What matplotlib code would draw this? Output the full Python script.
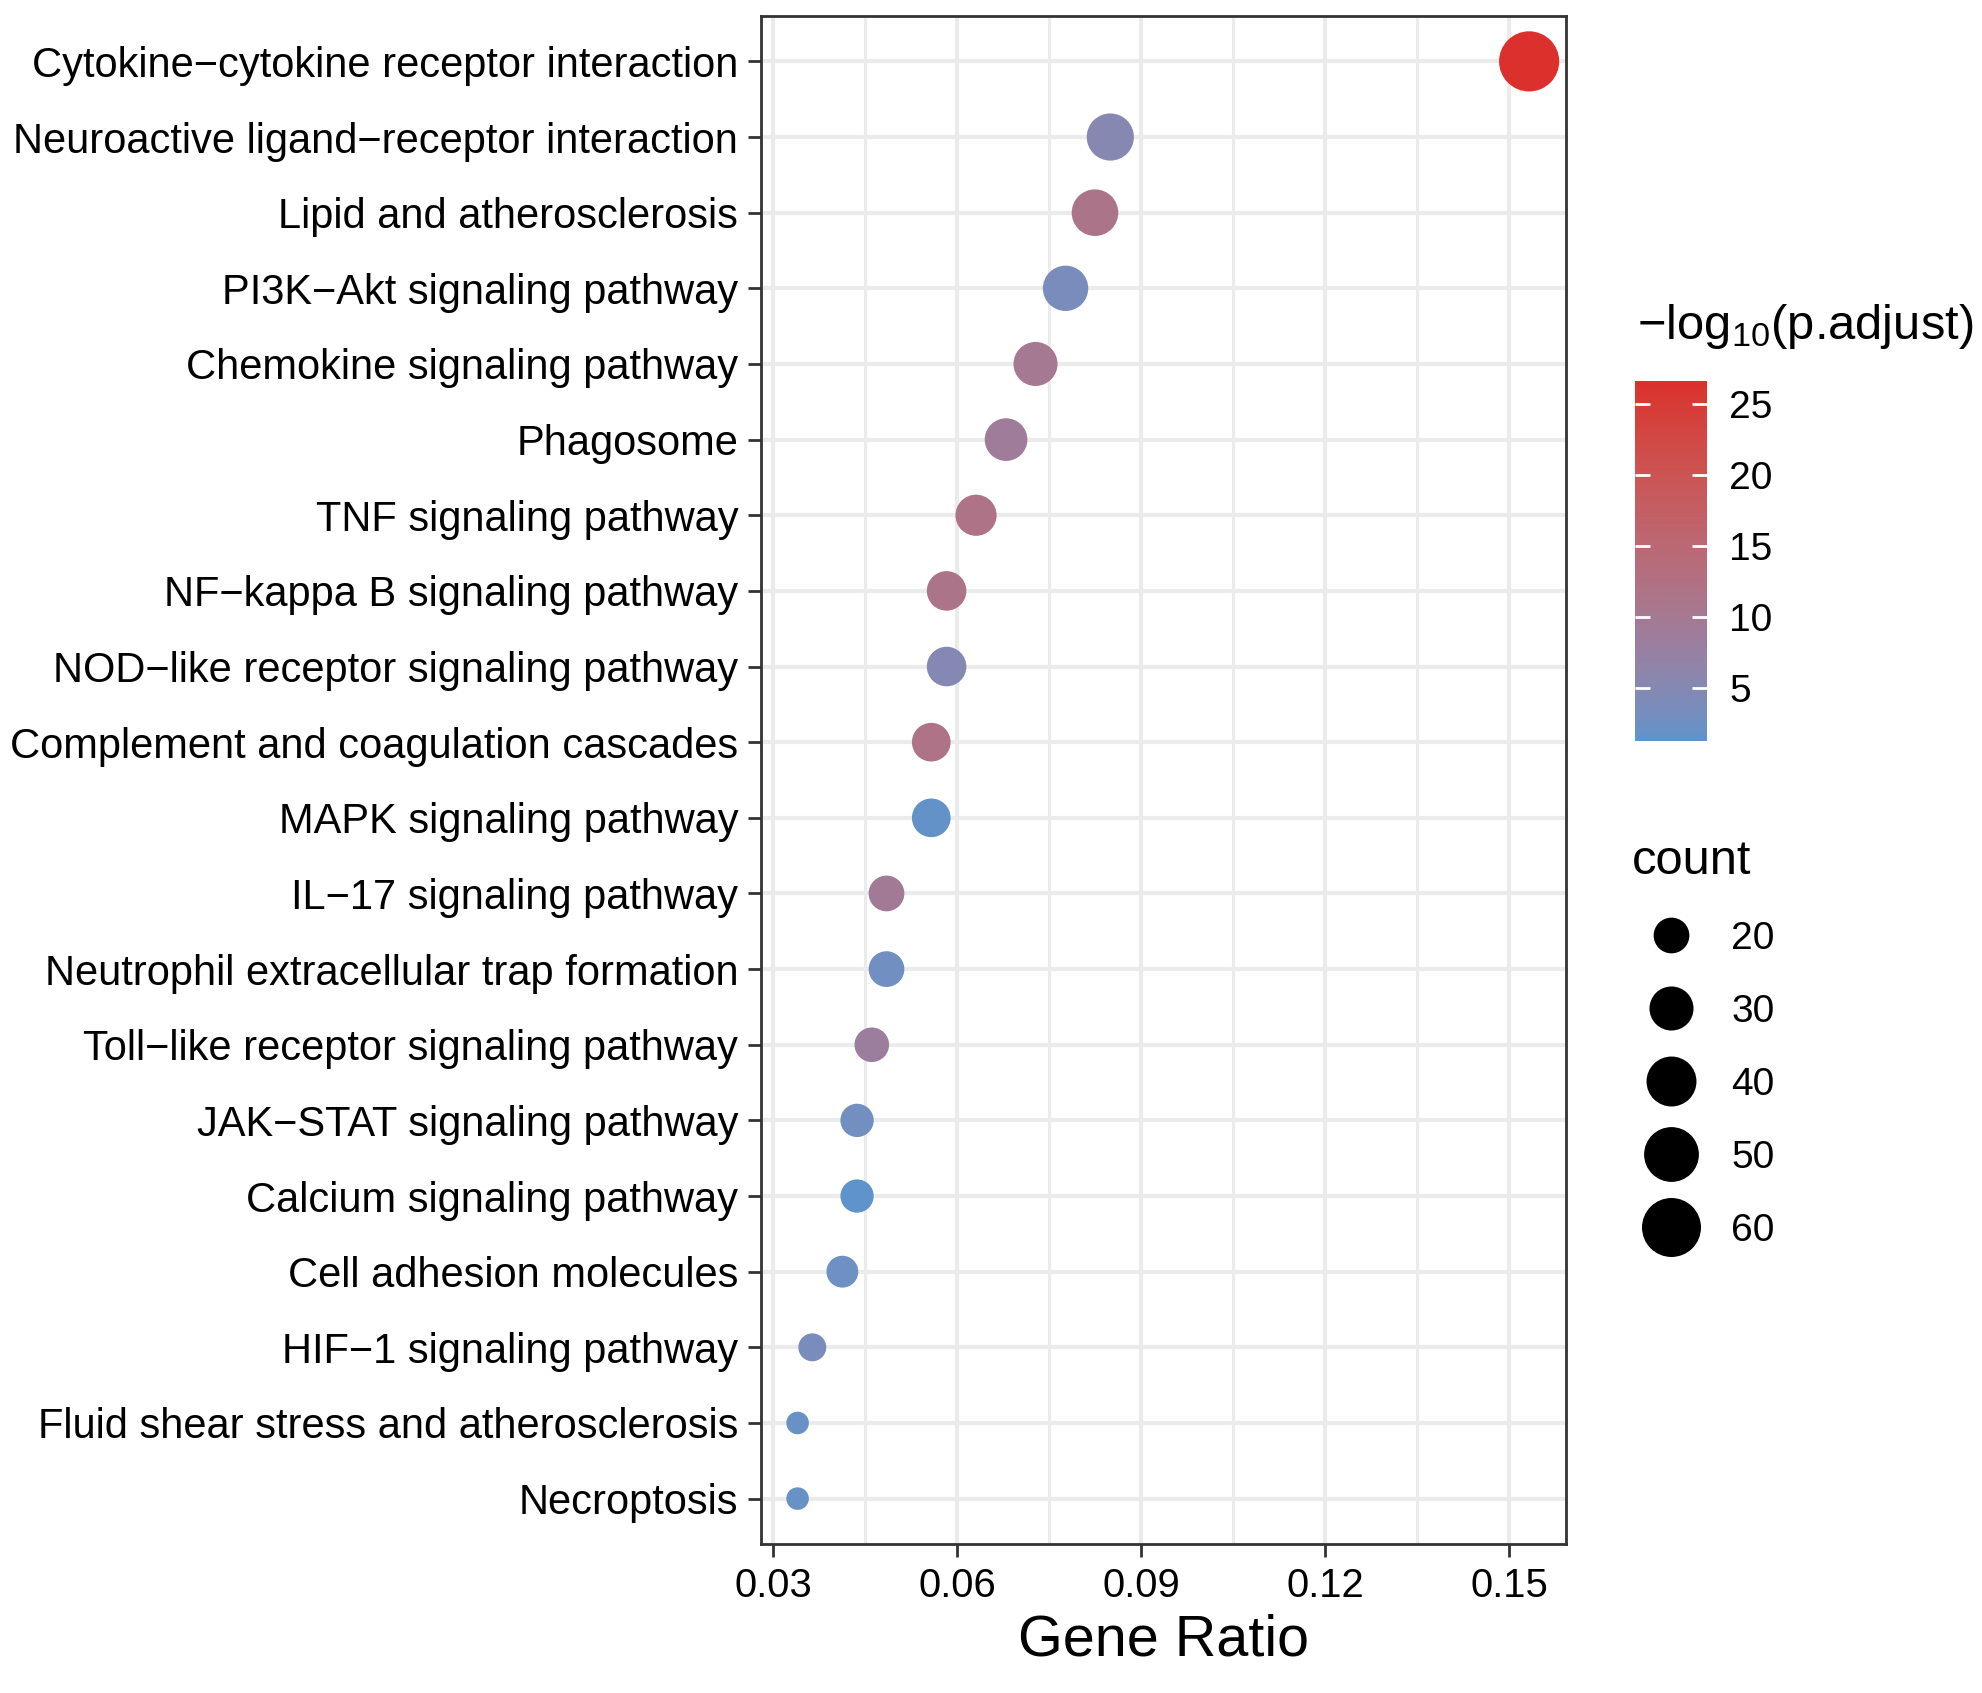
import matplotlib
matplotlib.use('Agg')
import matplotlib.pyplot as plt
from matplotlib.colors import ListedColormap, Normalize, to_rgb
from matplotlib.lines import Line2D
import numpy as np

plt.rcParams['font.family'] = ['Liberation Sans', 'DejaVu Sans']
plt.rcParams['mathtext.fontset'] = 'custom'
plt.rcParams['mathtext.rm'] = 'Liberation Sans'

# KEGG pathways, top to bottom as drawn
pathways = ['Cytokine-cytokine receptor interaction',
            'Neuroactive ligand-receptor interaction',
            'Lipid and atherosclerosis',
            'PI3K-Akt signaling pathway',
            'Chemokine signaling pathway',
            'Phagosome',
            'TNF signaling pathway',
            'NF-kappa B signaling pathway',
            'NOD-like receptor signaling pathway',
            'Complement and coagulation cascades',
            'MAPK signaling pathway',
            'IL-17 signaling pathway',
            'Neutrophil extracellular trap formation',
            'Toll-like receptor signaling pathway',
            'JAK-STAT signaling pathway',
            'Calcium signaling pathway',
            'Cell adhesion molecules',
            'HIF-1 signaling pathway',
            'Fluid shear stress and atherosclerosis',
            'Necroptosis']
gene_ratio = [0.1533, 0.0850, 0.0825, 0.0777, 0.0728, 0.0680, 0.0631, 0.0583, 0.0583, 0.0558,
              0.0558, 0.0485, 0.0485, 0.0461, 0.0437, 0.0437, 0.0413, 0.0364, 0.0340, 0.0340]
counts = [63, 35, 34, 32, 30, 28, 26, 24, 24, 23, 23, 20, 20, 19, 18, 18, 17, 15, 14, 14]
neg_log_padj = [26.64, 5.2, 11.5, 3.6, 10.0, 8.8, 11.8, 11.5, 5.0, 11.8,
                1.6, 9.5, 2.8, 8.2, 3.0, 1.26, 2.5, 3.8, 2.0, 2.0]
size_breaks = [20, 30, 40, 50, 60]
color_ticks = [5, 10, 15, 20, 25]

DPI = 200
LOW, HIGH = '#5F93CB', '#DB302B'

M = np.array([[0.4124, 0.3576, 0.1805],
              [0.2126, 0.7152, 0.0722],
              [0.0193, 0.1192, 0.9505]])
WHITE = np.array([0.95047, 1.0, 1.08883])


def to_lab(rgb):
    rgb = np.asarray(rgb, float)
    lin = np.where(rgb <= 0.04045, rgb / 12.92, ((rgb + 0.055) / 1.055) ** 2.4)
    xyz = M @ lin / WHITE
    f = np.where(xyz > (6 / 29) ** 3, np.cbrt(xyz), xyz / (3 * (6 / 29) ** 2) + 4 / 29)
    return np.array([116 * f[1] - 16, 500 * (f[0] - f[1]), 200 * (f[1] - f[2])])


def from_lab(lab):
    fy = (lab[0] + 16) / 116
    f = np.array([fy + lab[1] / 500, fy, fy - lab[2] / 200])
    xyz = np.where(f > 6 / 29, f ** 3, 3 * (6 / 29) ** 2 * (f - 4 / 29)) * WHITE
    lin = np.clip(np.linalg.inv(M) @ xyz, 0, 1)
    rgb = np.where(lin <= 0.0031308, 12.92 * lin, 1.055 * lin ** (1 / 2.4) - 0.055)
    return np.clip(rgb, 0, 1)


# ggplot-like gradient, interpolated in Lab space
lo, hi = to_lab(to_rgb(LOW)), to_lab(to_rgb(HIGH))
cmap = ListedColormap([from_lab(lo + t * (hi - lo)) for t in np.linspace(0, 1, 256)])
norm = Normalize(min(neg_log_padj), max(neg_log_padj))

cmin, cmax = min(counts), max(counts)


def size_pt(c):
    # area scale with range 3..8, converted to marker diameter in points
    d = 3 + 5 * np.sqrt((np.asarray(c, float) - cmin) / (cmax - cmin))
    return d * 7.52 * 72 / DPI


fig = plt.figure(figsize=(1982 / DPI, 1693 / DPI), dpi=DPI)
ax = fig.add_axes([0.38396, 0.08801, 0.40600, 0.90254])

n = len(pathways)
ypos = np.arange(n)[::-1]
ax.scatter(gene_ratio, ypos, s=size_pt(counts) ** 2, c=neg_log_padj, cmap=cmap, norm=norm,
           edgecolors='none', zorder=3)

ax.set_ylim(-0.6, n - 1 + 0.6)
span = max(gene_ratio) - min(gene_ratio)
ax.set_xlim(min(gene_ratio) - 0.05 * span, max(gene_ratio) + 0.05 * span)
ax.set_yticks(ypos)
ax.set_yticklabels([p.replace('-', '\u2212') for p in pathways])
ax.set_xticks([0.03, 0.06, 0.09, 0.12, 0.15])
ax.set_xticklabels(['0.03', '0.06', '0.09', '0.12', '0.15'])
ax.set_xticks([0.045, 0.075, 0.105, 0.135], minor=True)

ax.set_axisbelow(True)
ax.grid(which='major', color='#EBEBEB', linewidth=1.5)
ax.grid(which='minor', axis='x', color='#EBEBEB', linewidth=1.1)
ax.tick_params(which='major', length=4.7, width=1.0, color='#333333', labelsize=14.4,
               labelcolor='black', pad=3.5)
ax.tick_params(axis='y', labelsize=15)
ax.tick_params(which='minor', length=0)
for sp in ax.spines.values():
    sp.set_color('#333333')
    sp.set_linewidth(1.0)
ax.set_xlabel('Gene Ratio', fontsize=20.7, labelpad=3)

# colour bar
cax = fig.add_axes([0.8249, 0.56232, 0.03633, 0.21264])
cb = fig.colorbar(plt.cm.ScalarMappable(norm=norm, cmap=cmap), cax=cax)
cb.outline.set_visible(False)
cb.set_ticks(color_ticks)
cax.tick_params(direction='in', length=5.4, width=1.0, color='white', left=True, right=True,
                labelsize=14, pad=8)
fig.text(0.8260, 0.8069, r'$\mathregular{-log_{10}}$(p.adjust)', fontsize=17.6,
         ha='left', va='center')

# size legend
handles = [Line2D([], [], marker='o', linestyle='', color='black', markeredgewidth=0,
                  markersize=float(size_pt(b))) for b in size_breaks]
leg = fig.legend(handles, [str(b) for b in size_breaks], title='count', loc='upper left',
                 bbox_to_anchor=(0.8234, 0.5045), frameon=False, fontsize=14,
                 title_fontsize=17.6, labelspacing=0.95, handlelength=2.0,
                 handletextpad=0.55, borderpad=0, borderaxespad=0)
leg._legend_box.align = 'left'

fig.savefig('out.png', dpi=DPI, facecolor='white')
